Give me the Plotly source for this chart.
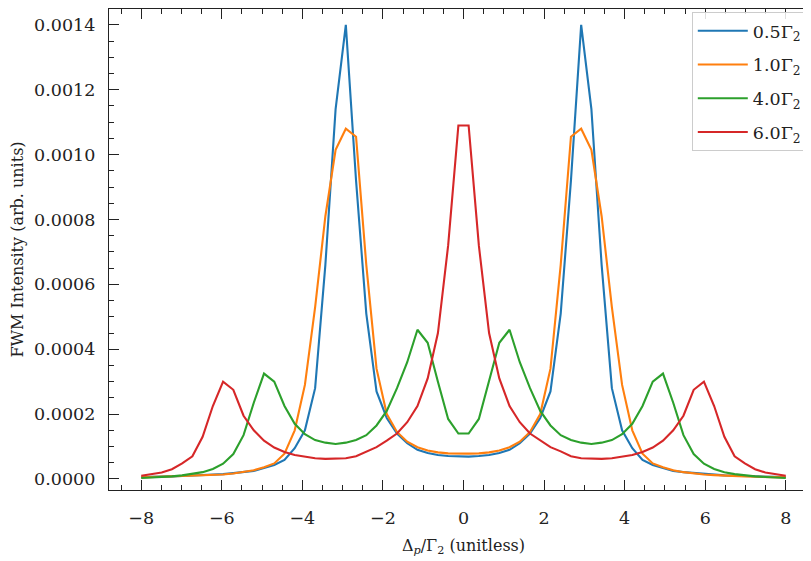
import plotly.graph_objects as go

x_vals = [-8.000, -7.746, -7.492, -7.238, -6.984, -6.730, -6.476, -6.222, -5.968, -5.714,
          -5.460, -5.206, -4.952, -4.698, -4.444, -4.190, -3.937, -3.683, -3.429, -3.175,
          -2.921, -2.667, -2.413, -2.159, -1.905, -1.651, -1.397, -1.143, -0.889, -0.635,
          -0.381, -0.127, 0.127, 0.381, 0.635, 0.889, 1.143, 1.397, 1.651, 1.905,
          2.159, 2.413, 2.667, 2.921, 3.175, 3.429, 3.683, 3.937, 4.190, 4.444,
          4.698, 4.952, 5.206, 5.460, 5.714, 5.968, 6.222, 6.476, 6.730, 6.984,
          7.238, 7.492, 7.746, 8.000]

gamma_05 = [0.000006, 0.000006, 0.000007, 0.000008, 0.000009, 0.000010, 0.000011, 0.000013,
            0.000015, 0.000018, 0.000021, 0.000025, 0.000034, 0.000043, 0.000059, 0.000095,
            0.000150, 0.000280, 0.000660, 0.001140, 0.001400, 0.000920, 0.000510, 0.000270,
            0.000188, 0.000140, 0.000110, 0.000090, 0.000080, 0.000074, 0.000071, 0.000069,
            0.000069, 0.000071, 0.000074, 0.000080, 0.000090, 0.000110, 0.000140, 0.000188,
            0.000270, 0.000510, 0.000920, 0.001400, 0.001140, 0.000660, 0.000280, 0.000150,
            0.000095, 0.000059, 0.000043, 0.000034, 0.000025, 0.000021, 0.000018, 0.000015,
            0.000013, 0.000011, 0.000010, 0.000009, 0.000008, 0.000007, 0.000006, 0.000006]

gamma_10 = [0.000005, 0.000006, 0.000006, 0.000007, 0.000008, 0.000009, 0.000010, 0.000012,
            0.000014, 0.000017, 0.000021, 0.000027, 0.000036, 0.000048, 0.000078, 0.000150,
            0.000290, 0.000530, 0.000810, 0.001015, 0.001080, 0.001055, 0.000660, 0.000340,
            0.000200, 0.000145, 0.000115, 0.000098, 0.000088, 0.000082, 0.000079, 0.000078,
            0.000078, 0.000079, 0.000082, 0.000088, 0.000098, 0.000115, 0.000145, 0.000200,
            0.000340, 0.000660, 0.001055, 0.001080, 0.001015, 0.000810, 0.000530, 0.000290,
            0.000150, 0.000078, 0.000048, 0.000036, 0.000027, 0.000021, 0.000017, 0.000014,
            0.000012, 0.000010, 0.000009, 0.000008, 0.000007, 0.000006, 0.000006, 0.000005]

gamma_40 = [0.000003, 0.000004, 0.000006, 0.000008, 0.000011, 0.000015, 0.000021, 0.000031,
            0.000047, 0.000077, 0.000135, 0.000235, 0.000325, 0.000300, 0.000225, 0.000170,
            0.000138, 0.000120, 0.000112, 0.000108, 0.000112, 0.000120, 0.000135, 0.000165,
            0.000210, 0.000280, 0.000360, 0.000460, 0.000420, 0.000300, 0.000185, 0.000140,
            0.000140, 0.000185, 0.000300, 0.000420, 0.000460, 0.000360, 0.000280, 0.000210,
            0.000165, 0.000135, 0.000120, 0.000112, 0.000108, 0.000112, 0.000120, 0.000138,
            0.000170, 0.000225, 0.000300, 0.000325, 0.000235, 0.000135, 0.000077, 0.000047,
            0.000031, 0.000021, 0.000015, 0.000011, 0.000008, 0.000006, 0.000004, 0.000003]

gamma_60 = [0.000010, 0.000014, 0.000020, 0.000030, 0.000048, 0.000070, 0.000130, 0.000225,
            0.000300, 0.000275, 0.000195, 0.000150, 0.000118, 0.000097, 0.000083, 0.000074,
            0.000068, 0.000064, 0.000062, 0.000062, 0.000064, 0.000070, 0.000085, 0.000098,
            0.000118, 0.000140, 0.000175, 0.000225, 0.000310, 0.000450, 0.000720, 0.001090,
            0.001090, 0.000720, 0.000450, 0.000310, 0.000225, 0.000175, 0.000140, 0.000118,
            0.000098, 0.000085, 0.000070, 0.000064, 0.000062, 0.000062, 0.000064, 0.000068,
            0.000074, 0.000083, 0.000097, 0.000118, 0.000150, 0.000195, 0.000275, 0.000300,
            0.000225, 0.000130, 0.000070, 0.000048, 0.000030, 0.000020, 0.000014, 0.000010]

series_names = ["0.5Γ<sub>2</sub>", "1.0Γ<sub>2</sub>", "4.0Γ<sub>2</sub>", "6.0Γ<sub>2</sub>"]
series_values = [gamma_05, gamma_10, gamma_40, gamma_60]
colors = ["#1f77b4", "#ff7f0e", "#2ca02c", "#d62728"]

x_ticks = [-8, -6, -4, -2, 0, 2, 4, 6, 8]
y_ticks = [0.0, 0.0002, 0.0004, 0.0006, 0.0008, 0.0010, 0.0012, 0.0014]

FONT = "DejaVu Serif"

fig = go.Figure()
for i, (name, vals, col) in enumerate(zip(series_names, series_values, colors)):
    fig.add_trace(go.Scatter(
        x=x_vals, y=vals, mode="lines", name=name,
        line=dict(color=col, width=2.1),
        legendgroup=f"g{i}",
    ))

axis_common = dict(
    showline=True, linecolor="#222222", linewidth=1.3, mirror="ticks",
    ticks="inside", ticklen=10, tickwidth=1.2, tickcolor="#222222",
    showgrid=False, zeroline=False, automargin=False,
    tickfont=dict(family=FONT, size=17.5, color="#222222"),
)

fig.update_layout(
    width=811, height=561,
    margin=dict(l=101, r=1, t=1, b=79, autoexpand=False),
    paper_bgcolor="white", plot_bgcolor="white",
    font=dict(family=FONT, size=16, color="#222222"),
    showlegend=True,
    legend=dict(
        x=0.822, y=0.994, xanchor="left", yanchor="top",
        bgcolor="rgba(255,255,255,0.85)", bordercolor="#cccccc", borderwidth=1,
        font=dict(family=FONT, size=17.5, color="#222222"),
        tracegroupgap=8, itemwidth=50,
    ),
    xaxis=dict(
        range=[-8.8, 8.8], tickvals=x_ticks,
        title=dict(text="Δ<sub><i>p</i></sub>/Γ<sub>2</sub> (unitless)", standoff=12,
                   font=dict(family=FONT, size=16, color="#222222")),
        minor=dict(dtick=0.5, ticks="inside", ticklen=5, tickcolor="#222222", tickwidth=1),
        ticklabelstandoff=12,
        **axis_common,
    ),
    yaxis=dict(
        range=[-0.000034, 0.001449], tickvals=y_ticks, tickformat=".4f",
        title=dict(text="FWM Intensity (arb. units)", standoff=8,
                   font=dict(family=FONT, size=16, color="#222222")),
        minor=dict(dtick=0.00005, tick0=0, ticks="inside", ticklen=5, tickcolor="#222222", tickwidth=1),
        ticklabelstandoff=9,
        **axis_common,
    ),
)

fig.write_html("out.html")
